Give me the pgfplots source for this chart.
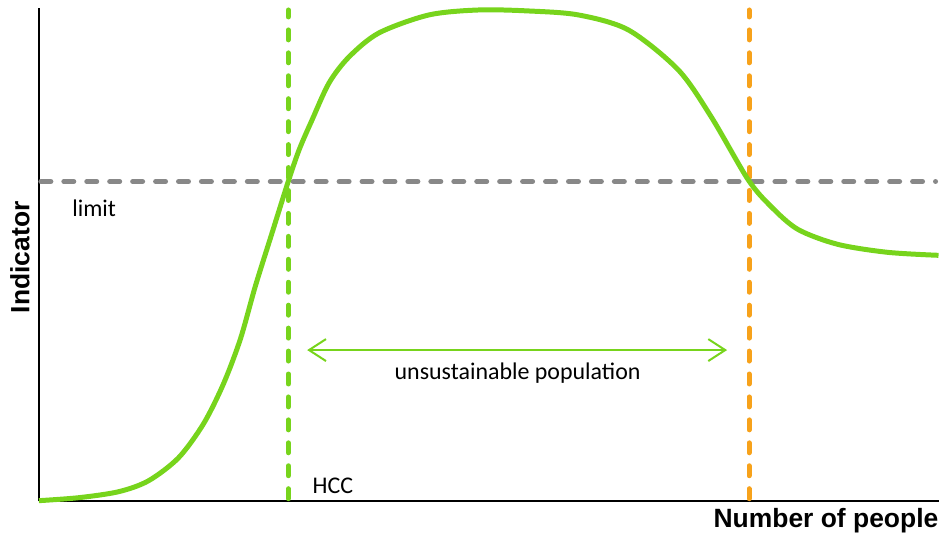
\documentclass[border=0pt]{standalone}
\usepackage{pgfplots}
\pgfplotsset{compat=1.18}
\usetikzlibrary{arrows.meta}
\usepackage{fontspec}
\setmainfont{Carlito}
\newfontfamily\arialfont{Liberation Sans}
\definecolor{cgreen}{HTML}{77D41C}
\definecolor{corange}{HTML}{F7A21B}
\definecolor{cgray}{HTML}{888888}
\begin{document}
\begin{tikzpicture}
\begin{axis}[
  scale only axis, width=902bp, height=494bp,
  xmin=39, xmax=941, ymin=0, ymax=494,
  axis lines=left, axis line style={-, line width=1.8bp, black},
  ticks=none, clip=false,
]
\addplot[cgray, line width=5bp, line cap=round, dash pattern=on 10bp off 13bp] coordinates {(41,320) (938,320)};
\addplot[cgreen, line width=5bp, line cap=round, dash pattern=on 10bp off 13bp] coordinates {(289,2) (289,492)};
\addplot[corange, line width=5bp, line cap=round, dash pattern=on 10bp off 13bp] coordinates {(751,2) (751,492)};
\addplot[cgreen, line width=5bp, smooth] coordinates {
(39,0) (79,3) (119,9) (149,20) (179,43) (204,77) (224,117) (241,162) (256,215) (272,266) (289,320) (300,352) (313,382) (330,419) (350,445) (380,469) (430,487) (480,492) (530,491) (580,487) (630,472) (680,432) (713,385) (750,322) (773,295) (800,272) (840,257) (890,249) (941,246)};
\addplot[cgreen, line width=2bp, {Straight Barb[length=17bp,width=22bp]}-{Straight Barb[length=17bp,width=22bp]}] coordinates {(308,151) (729,151)};
\node[font=\fontsize{24bp}{28bp}\selectfont] at (axis cs:519,128) {unsustainable population};
\node[font=\fontsize{24bp}{28bp}\selectfont, anchor=west] at (axis cs:69,293) {limit};
\node[font=\fontsize{24bp}{28bp}\selectfont, anchor=west] at (axis cs:310,15) {HCC};
\node[font=\arialfont\bfseries\fontsize{26.5bp}{30bp}\selectfont, anchor=base east, inner sep=0pt] at (axis cs:941,-27) {Number of people};
\node[font=\arialfont\bfseries\fontsize{26.5bp}{30bp}\selectfont, rotate=90] at (axis cs:20,244) {Indicator};
\path (axis cs:0,-38) rectangle (axis cs:941,502);
\end{axis}
\end{tikzpicture}
\end{document}
